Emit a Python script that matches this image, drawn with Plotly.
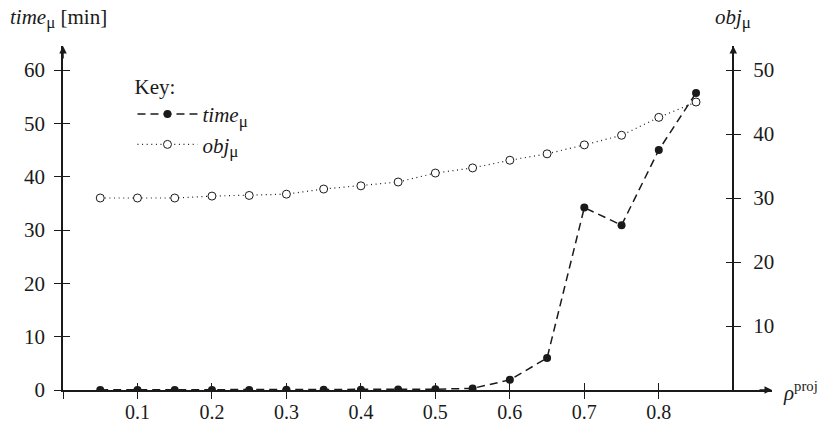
import plotly.graph_objects as go

rho = [0.05, 0.10, 0.15, 0.20, 0.25, 0.30, 0.35, 0.40, 0.45, 0.50, 0.55, 0.60, 0.65, 0.70, 0.75, 0.80, 0.85]
time_mu = [0.02, 0.02, 0.02, 0.02, 0.02, 0.03, 0.03, 0.05, 0.08, 0.15, 0.3, 1.9, 6.0, 34.2, 30.9, 45.0, 55.7]
obj_mu = [30.0, 30.0, 30.0, 30.3, 30.4, 30.6, 31.4, 31.9, 32.5, 33.9, 34.7, 35.9, 36.9, 38.3, 39.8, 42.6, 45.0]

x_ticks = [0.0, 0.1, 0.2, 0.3, 0.4, 0.5, 0.6, 0.7, 0.8]
x_labels = ["", "0.1", "0.2", "0.3", "0.4", "0.5", "0.6", "0.7", "0.8"]
y_left_ticks = [0, 10, 20, 30, 40, 50, 60]
y_right_ticks = [10, 20, 30, 40, 50]

X_MAX = 0.952
Y_LEFT_MAX = 64.5
Y_RIGHT_MAX = 53.75
RIGHT_AXIS_X = 0.9
right_pos = RIGHT_AXIS_X / X_MAX

FONT = "Liberation Serif"
INK = "#1a1a1a"
MU = "<sub><span style='font-size:17px'>μ</span></sub>"

fig = go.Figure()
fig.add_trace(go.Scatter(
    x=rho, y=time_mu, name="<i>time</i>" + MU, mode="lines+markers",
    line=dict(color=INK, width=1.5, dash="8px,5px"),
    marker=dict(symbol="circle", size=8, color=INK),
    xaxis="x", yaxis="y"))
fig.add_trace(go.Scatter(
    x=rho, y=obj_mu, name="<i>obj</i>" + MU, mode="lines+markers",
    line=dict(color=INK, width=1.2, dash="1px,3.6px"),
    marker=dict(symbol="circle", size=8, color="white", line=dict(color=INK, width=1)),
    xaxis="x", yaxis="y2"))
# empty traces so that the helper axes (inner half of cross ticks) get drawn
fig.add_trace(go.Scatter(x=[], y=[], xaxis="x2", yaxis="y", showlegend=False, hoverinfo="skip"))
fig.add_trace(go.Scatter(x=[], y=[], xaxis="x", yaxis="y3", showlegend=False, hoverinfo="skip"))
fig.add_trace(go.Scatter(x=[], y=[], xaxis="x", yaxis="y4", showlegend=False, hoverinfo="skip"))

tickfont = dict(family=FONT, size=21, color=INK)
common = dict(showgrid=False, zeroline=False, linecolor=INK, linewidth=1.5,
              tickcolor=INK, tickwidth=1, ticklen=7, automargin=False)
plain = {k: v for k, v in common.items()}

fig.update_layout(
    width=821, height=424,
    margin=dict(l=63, r=49, t=46, b=34, autoexpand=False),
    paper_bgcolor="white", plot_bgcolor="white",
    font=dict(family=FONT, size=21, color=INK),
    showlegend=True,
    legend=dict(x=0.098, y=0.94, xanchor="left", yanchor="top",
                title=dict(text="Key:", font=dict(family=FONT, size=21, color=INK)),
                font=dict(family=FONT, size=21, color=INK),
                bgcolor="rgba(0,0,0,0)", itemwidth=60, tracegroupgap=0),
    xaxis=dict(range=[0, X_MAX], showline=True, ticks="outside",
               tickfont=dict(family=FONT, size=20, color=INK),
               tickvals=x_ticks, ticktext=x_labels, ticklabelstandoff=-4, **common),
    xaxis2=dict(range=[0, X_MAX], matches="x", overlaying="x", anchor="y", side="bottom",
                showline=False, ticks="inside", tickvals=x_ticks, showticklabels=False, **plain),
    yaxis=dict(range=[0, Y_LEFT_MAX], showline=True, ticks="outside", tickfont=tickfont,
               tickvals=y_left_ticks, ticklabelstandoff=5, **common),
    yaxis3=dict(range=[0, Y_LEFT_MAX], matches="y", overlaying="y", anchor="x", side="left",
                showline=False, ticks="inside", tickvals=y_left_ticks, showticklabels=False, **plain),
    yaxis2=dict(range=[0, Y_RIGHT_MAX], overlaying="y", anchor="free", position=right_pos,
                side="right", showline=True, ticks="outside", tickvals=y_right_ticks,
                tickfont=tickfont, ticklabelstandoff=8, **common),
    yaxis4=dict(range=[0, Y_RIGHT_MAX], matches="y2", overlaying="y", anchor="free",
                position=right_pos, side="right", showline=False, ticks="inside",
                tickvals=y_right_ticks, showticklabels=False, **plain),
)

arrow = dict(showarrow=True, arrowhead=2, arrowsize=1, arrowwidth=1.5, arrowcolor=INK,
             text="", xref="paper", yref="paper", standoff=0)
fig.add_annotation(x=0, y=1.0, ax=0, ay=14, **arrow)
fig.add_annotation(x=right_pos, y=1.0, ax=0, ay=14, **arrow)
fig.add_annotation(x=1.0, y=0, ax=-14, ay=0, **arrow)

lab = dict(showarrow=False, xref="paper", yref="paper", font=dict(family=FONT, size=21, color=INK))
fig.add_annotation(x=-0.078, y=1.08, xanchor="left", yanchor="middle",
                   text="<i>time</i>" + MU + " [min]", **lab)
fig.add_annotation(x=right_pos, y=1.08, xanchor="center", yanchor="middle",
                   text="<i>obj</i>" + MU, **lab)
fig.add_annotation(x=1.012, y=-0.005, xanchor="left", yanchor="middle",
                   text="<i>ρ</i><sup>proj</sup>", **lab)

fig.write_html("out.html")
